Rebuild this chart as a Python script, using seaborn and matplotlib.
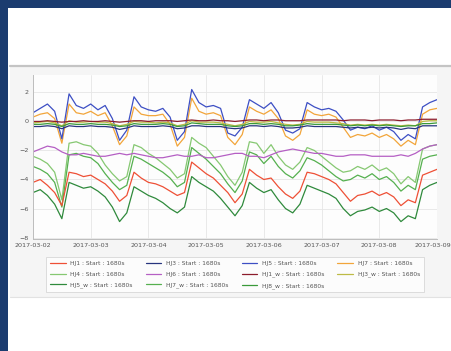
import numpy as np
import pandas as pd
import seaborn as sns
import matplotlib.pyplot as plt
import matplotlib.dates as mdates
import matplotlib.transforms as mtransforms
from matplotlib.patches import Rectangle
from matplotlib.lines import Line2D

# 3-hourly samples from 2017-03-02 00:00 to 2017-03-09 00:00
times = pd.date_range("2017-03-02", periods=57, freq="3h")

red = [-4.2, -4.0, -4.4, -4.9, -5.8, -3.5, -3.6, -3.8, -3.7, -4.0, -4.3, -4.8, -5.5, -5.1,
       -3.5, -3.9, -4.2, -4.3, -4.5, -4.8, -5.1, -4.9, -2.8, -3.2, -3.6, -3.9, -4.4, -4.9,
       -5.6, -5.0, -3.3, -3.7, -4.0, -3.9, -4.5, -5.0, -5.3, -4.8, -3.5, -3.6, -3.8, -4.0,
       -4.3, -4.9, -5.5, -5.1, -5.0, -4.8, -5.1, -4.9, -5.2, -5.8, -5.4, -5.6, -3.7, -3.5, -3.3]
light_green = [-2.4, -2.6, -2.9, -3.5, -5.4, -1.5, -1.4, -1.6, -1.7, -2.2, -3.0, -3.6, -4.1, -3.8,
               -1.6, -1.8, -2.2, -2.5, -2.9, -3.3, -3.9, -3.6, -1.1, -1.5, -1.8, -2.4, -3.0, -3.8,
               -4.4, -3.5, -1.4, -1.5, -2.2, -1.6, -2.4, -3.0, -3.3, -2.8, -1.8, -2.0, -2.4, -2.8,
               -3.2, -3.5, -3.4, -3.1, -3.3, -3.0, -3.4, -3.2, -3.6, -4.3, -3.8, -4.2, -1.9, -1.7, -1.6]
dark_green = [-4.9, -4.7, -5.1, -5.7, -6.7, -4.2, -4.4, -4.6, -4.5, -4.8, -5.2, -5.9, -6.9, -6.3,
              -4.5, -4.8, -5.1, -5.3, -5.6, -6.0, -6.3, -5.9, -3.8, -4.2, -4.5, -4.8, -5.3, -5.9,
              -6.5, -5.8, -4.2, -4.6, -4.9, -4.7, -5.4, -6.0, -6.3, -5.7, -4.4, -4.6, -4.8, -5.0,
              -5.3, -6.0, -6.5, -6.2, -6.1, -5.9, -6.2, -6.0, -6.3, -6.9, -6.5, -6.7, -4.7, -4.4, -4.2]
mid_green = [-3.1, -3.3, -3.6, -4.2, -5.9, -2.3, -2.2, -2.4, -2.5, -2.9, -3.6, -4.2, -4.7, -4.4,
             -2.4, -2.6, -2.9, -3.2, -3.5, -3.9, -4.5, -4.2, -1.8, -2.2, -2.6, -3.1, -3.6, -4.3,
             -4.9, -4.1, -2.1, -2.3, -2.9, -2.4, -3.1, -3.6, -3.9, -3.4, -2.5, -2.7, -3.0, -3.4,
             -3.8, -4.1, -4.0, -3.7, -3.9, -3.6, -4.0, -3.8, -4.2, -4.8, -4.4, -4.7, -2.6, -2.4, -2.3]
purple = [-2.1, -1.9, -1.7, -1.8, -2.1, -2.3, -2.3, -2.2, -2.3, -2.4, -2.4, -2.3, -2.2, -2.3,
          -2.2, -2.3, -2.4, -2.5, -2.5, -2.4, -2.3, -2.4, -2.4, -2.3, -2.5, -2.5, -2.4, -2.3,
          -2.2, -2.2, -2.4, -2.4, -2.5, -2.3, -2.1, -2.0, -1.9, -2.0, -2.1, -2.2, -2.2, -2.3,
          -2.4, -2.4, -2.3, -2.3, -2.3, -2.4, -2.4, -2.4, -2.4, -2.3, -2.4, -2.2, -1.9, -1.7, -1.6]
blue = [0.6, 0.9, 1.2, 0.7, -1.2, 1.9, 1.1, 0.9, 1.2, 0.8, 1.1, 0.2, -1.3, -0.6,
        1.7, 1.0, 0.8, 0.7, 0.9, 0.3, -1.3, -0.7, 2.2, 1.3, 1.0, 1.1, 0.9, -0.8,
        -1.0, -0.4, 1.5, 1.2, 0.9, 1.3, 0.6, -0.6, -0.8, -0.5, 1.3, 1.0, 0.8, 0.9,
        0.7, 0.1, -0.6, -0.4, -0.5, -0.3, -0.6, -0.4, -0.7, -1.3, -0.9, -1.2, 1.0, 1.3, 1.5]
orange = [0.3, 0.5, 0.6, 0.2, -1.5, 1.2, 0.6, 0.5, 0.7, 0.4, 0.6, -0.3, -1.6, -1.0,
          1.0, 0.5, 0.4, 0.4, 0.5, -0.2, -1.7, -1.1, 1.6, 0.7, 0.5, 0.6, 0.4, -1.1,
          -1.6, -0.9, 1.0, 0.7, 0.5, 0.8, 0.2, -1.0, -1.3, -0.9, 0.8, 0.5, 0.4, 0.5,
          0.3, -0.4, -1.1, -0.9, -1.0, -0.8, -1.1, -0.9, -1.2, -1.7, -1.3, -1.6, 0.5, 0.8, 0.9]
dark_red = [0.0, 0.0, 0.05, 0.0, -0.05, 0.0, 0.0, 0.05, 0.0, 0.0, 0.05, 0.0, -0.05, 0.0,
            0.05, 0.05, 0.0, 0.05, 0.05, 0.05, 0.0, 0.05, 0.1, 0.05, 0.05, 0.1, 0.05, 0.05,
            0.0, 0.05, 0.1, 0.1, 0.05, 0.1, 0.1, 0.05, 0.05, 0.05, 0.1, 0.1, 0.1, 0.1,
            0.1, 0.05, 0.1, 0.1, 0.1, 0.05, 0.1, 0.1, 0.1, 0.05, 0.1, 0.1, 0.15, 0.15, 0.15]
green_flat = [-0.2, -0.2, -0.15, -0.2, -0.35, -0.15, -0.2, -0.2, -0.15, -0.2, -0.2, -0.25, -0.35, -0.3,
              -0.15, -0.2, -0.2, -0.2, -0.15, -0.2, -0.35, -0.3, -0.1, -0.15, -0.2, -0.2, -0.2, -0.3,
              -0.35, -0.3, -0.15, -0.15, -0.2, -0.15, -0.2, -0.3, -0.3, -0.25, -0.15, -0.2, -0.2, -0.2,
              -0.2, -0.25, -0.3, -0.25, -0.3, -0.25, -0.3, -0.25, -0.3, -0.35, -0.3, -0.3, -0.15, -0.15, -0.1]
navy = [-0.35, -0.35, -0.3, -0.35, -0.5, -0.3, -0.35, -0.35, -0.3, -0.35, -0.35, -0.4, -0.55, -0.45,
        -0.3, -0.35, -0.35, -0.35, -0.3, -0.35, -0.5, -0.45, -0.3, -0.3, -0.35, -0.35, -0.35, -0.45,
        -0.5, -0.45, -0.3, -0.3, -0.35, -0.3, -0.35, -0.45, -0.45, -0.4, -0.3, -0.35, -0.35, -0.35,
        -0.35, -0.4, -0.45, -0.4, -0.45, -0.4, -0.45, -0.4, -0.45, -0.55, -0.45, -0.5, -0.3, -0.3, -0.3]
olive = [-0.1, -0.05, 0.0, -0.1, -0.3, 0.05, -0.05, -0.05, 0.0, -0.05, -0.05, -0.15, -0.3, -0.2,
         0.0, -0.05, -0.05, -0.1, -0.05, -0.1, -0.3, -0.2, 0.05, -0.05, -0.05, -0.05, -0.1, -0.2,
         -0.3, -0.2, 0.0, -0.05, -0.05, 0.0, -0.1, -0.2, -0.25, -0.2, 0.0, -0.05, -0.05, -0.05,
         -0.1, -0.15, -0.25, -0.2, -0.25, -0.2, -0.25, -0.2, -0.25, -0.3, -0.25, -0.3, 0.0, 0.05, 0.05]

labels = ["HJ1 : Start : 1680s", "HJ4 : Start : 1680s", "HJ5_w : Start : 1680s",
          "HJ3 : Start : 1680s", "HJ6 : Start : 1680s", "HJ7_w : Start : 1680s",
          "HJ5 : Start : 1680s", "HJ1_w : Start : 1680s", "HJ8_w : Start : 1680s",
          "HJ7 : Start : 1680s", "HJ3_w : Start : 1680s"]
series = [red, light_green, dark_green, navy, purple, mid_green,
          blue, dark_red, green_flat, orange, olive]
colors = ["#ee5036", "#86c872", "#2f8a3c", "#27357e", "#b55fc4", "#55b04f",
          "#3d4fc4", "#8c1c2c", "#3a9a3a", "#f2a53a", "#bdbb45"]
# draw order so the flat lines end up on top like the original
draw_order = [1, 5, 4, 0, 2, 9, 6, 10, 8, 3, 7]

sns.set_style("whitegrid")
fig = plt.figure(figsize=(4.52, 3.51), dpi=100, facecolor="white")

# page decoration: blue frame strips and grey panel
fig.add_artist(Rectangle((0, 0), 8 / 452, 1, transform=fig.transFigure,
                         facecolor="#1b3c6f", edgecolor="none", zorder=10))
fig.add_artist(Rectangle((0, 1 - 8 / 351), 1, 8 / 351, transform=fig.transFigure,
                         facecolor="#1b3c6f", edgecolor="none", zorder=10))
fig.add_artist(Rectangle((10 / 452, 1 - 297 / 351), 1, 231 / 351, transform=fig.transFigure,
                         facecolor="#f5f5f5", edgecolor="none", zorder=-2))
fig.add_artist(Line2D([10 / 452, 1], [1 - 66 / 351] * 2, transform=fig.transFigure,
                      color="#c4c4c4", linewidth=1.6, zorder=-1))
fig.add_artist(Line2D([10 / 452, 1], [1 - 297 / 351] * 2, transform=fig.transFigure,
                      color="#e2e2e2", linewidth=0.8, zorder=-1))

ax = fig.add_axes([33 / 452, 1 - 239 / 351, 404 / 452, 164 / 351])
ax.set_facecolor("#fdfdfd")

for k in draw_order:
    sns.lineplot(x=times, y=series[k], color=colors[k], label=labels[k],
                 linewidth=0.9, ax=ax)

ax.get_legend().remove()
ax.set_xlabel("")
ax.set_ylabel("")
ax.set_xlim(pd.Timestamp("2017-03-02"), pd.Timestamp("2017-03-09"))
ax.set_ylim(-8.1, 3.2)
ax.set_yticks([-8, -6, -4, -2, 0, 2])
ax.xaxis.set_major_locator(mdates.DayLocator())
ax.xaxis.set_major_formatter(mdates.DateFormatter("%Y-%m-%d"))
ax.tick_params(labelsize=4.6, colors="#555555", length=0, pad=3)
ax.grid(color="#e6e6e6", linewidth=0.6)
for side in ["top", "right"]:
    ax.spines[side].set_visible(False)
for side in ["left", "bottom"]:
    ax.spines[side].set_color("#bdbdbd")
    ax.spines[side].set_linewidth(0.7)

# keep the last date label inside the picture
fig.canvas.draw()
last = ax.get_xticklabels()[-1]
last.set_transform(last.get_transform() + mtransforms.ScaledTranslation(-4 / 100, 0, fig.dpi_scale_trans))

# legend ordered column by column like the original
handles = [Line2D([], [], color=c, linewidth=0.9) for c in colors]
leg = fig.legend(handles, labels, loc="upper center", bbox_to_anchor=(0.52, 1 - 254 / 351),
                 ncol=4, fontsize=4.3, frameon=True, fancybox=False, edgecolor="#cfcfcf",
                 handlelength=2.6, columnspacing=2.2, labelspacing=0.95, borderpad=0.6)
leg.get_frame().set_linewidth(0.6)
for t in leg.get_texts():
    t.set_color("#555555")

fig.savefig("out.png", dpi=100, facecolor="white")
